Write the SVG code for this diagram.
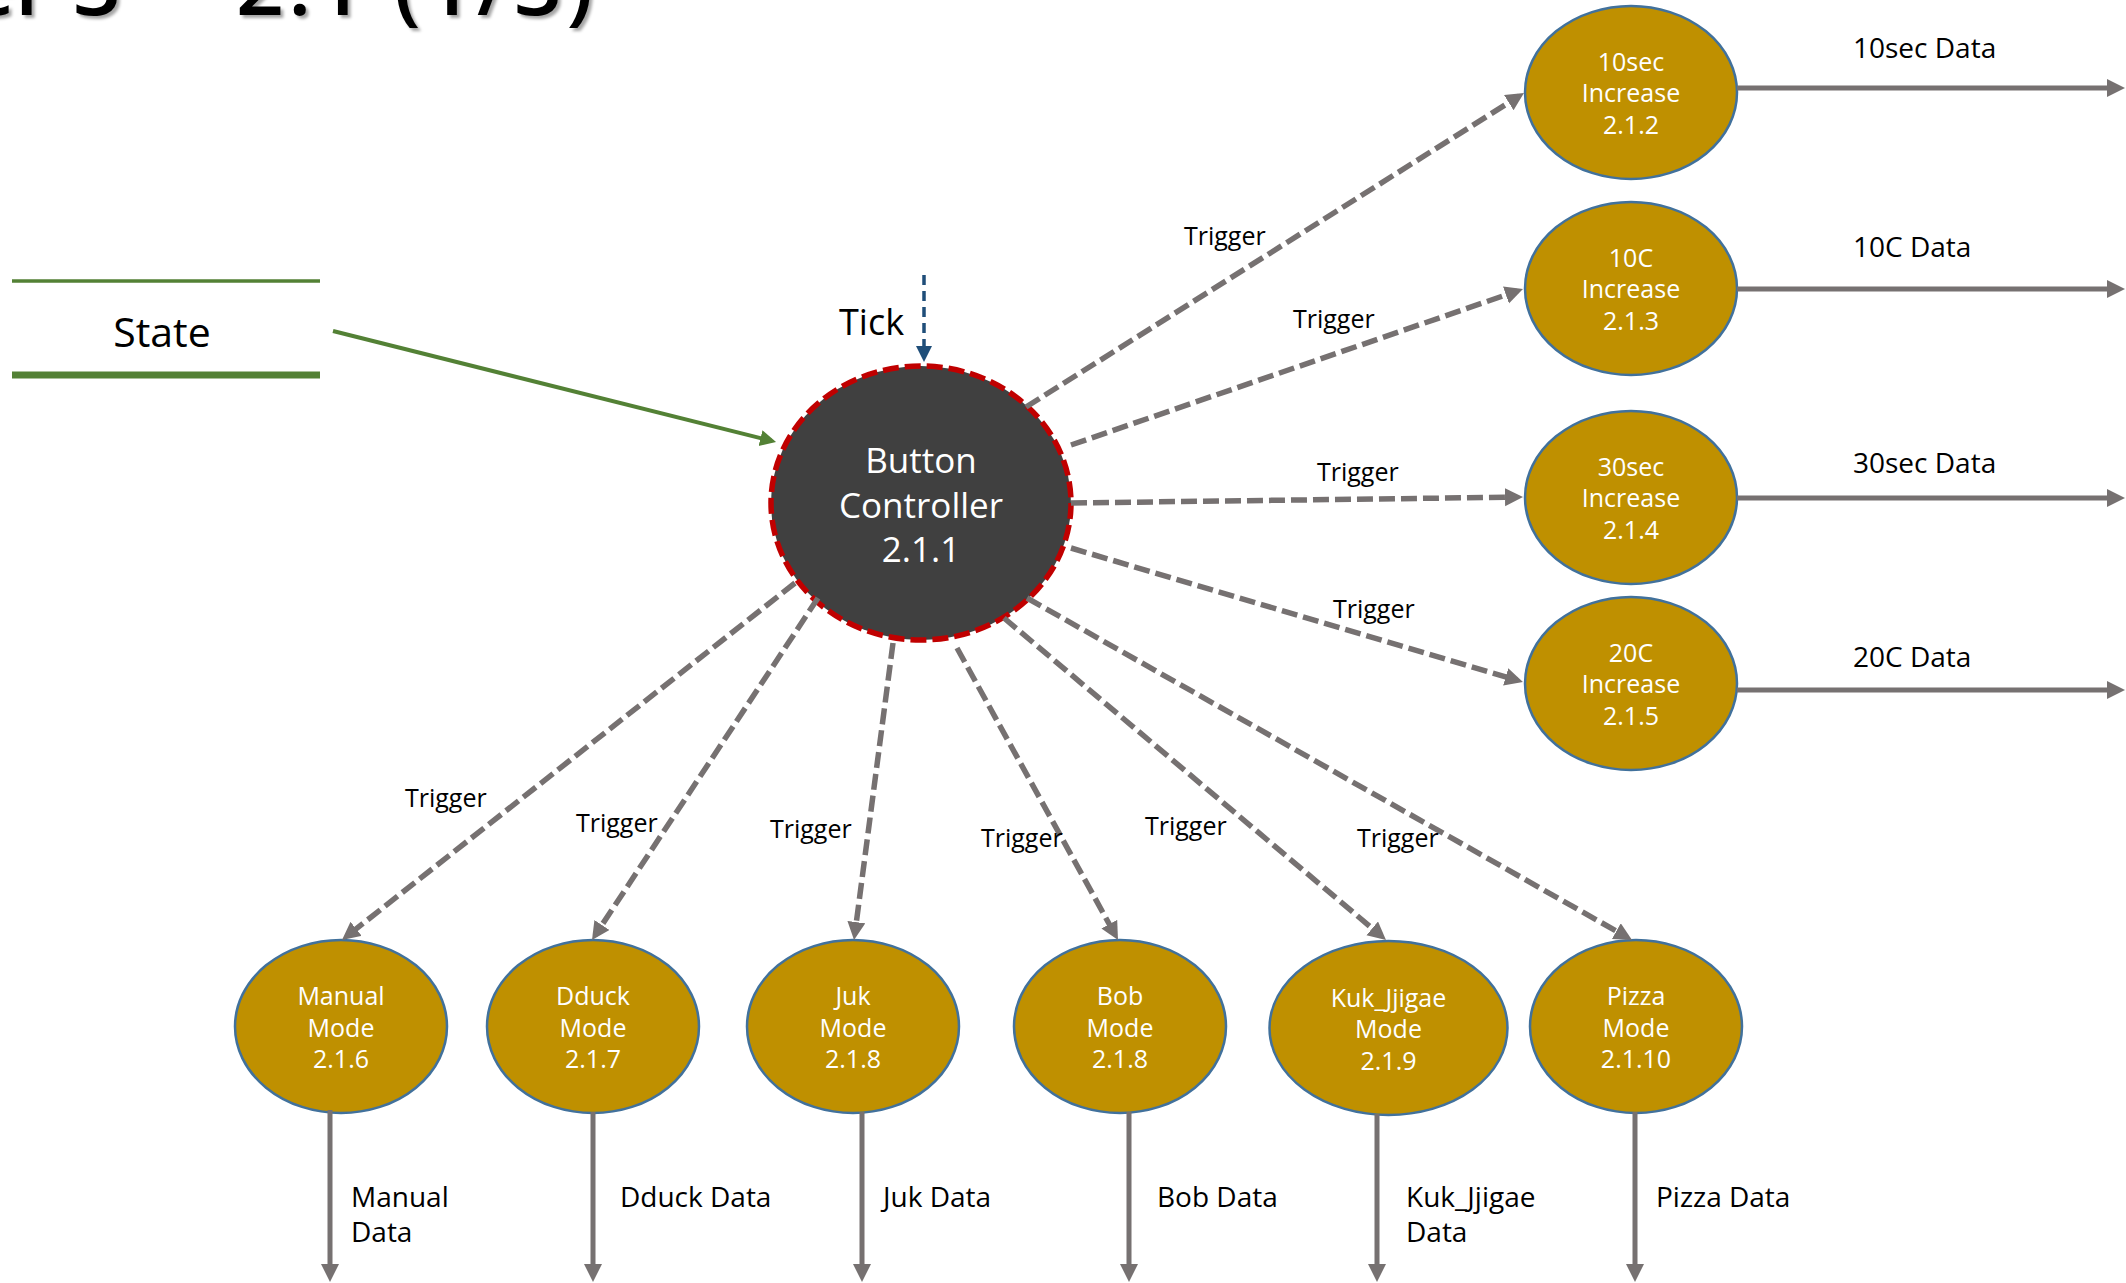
<svg xmlns="http://www.w3.org/2000/svg" width="2126" height="1283" viewBox="0 0 2126 1283">
<defs>
<marker id="ag" markerUnits="userSpaceOnUse" markerWidth="20" markerHeight="20" refX="12" refY="9" orient="auto"><path d="M0,0 L18,9 L0,18 z" fill="#767171"/></marker>
<marker id="ab" markerUnits="userSpaceOnUse" markerWidth="18" markerHeight="18" refX="11" refY="8" orient="auto"><path d="M0,0 L16,8 L0,16 z" fill="#1F4E79"/></marker>
<marker id="agr" markerUnits="userSpaceOnUse" markerWidth="18" markerHeight="18" refX="11" refY="8" orient="auto"><path d="M0,0 L16,8 L0,16 z" fill="#538135"/></marker>
<filter id="sh" x="-5%" y="-50%" width="110%" height="200%"><feDropShadow dx="3" dy="3" stdDeviation="1.5" flood-color="#000" flood-opacity="0.35"/></filter>
</defs>
<style>
text{font-family:"Open Sans","Noto Sans","Liberation Sans",sans-serif;}
.gold{fill:#BF9000;stroke:#41719C;stroke-width:2.5;}
.nt{fill:#fff;font-size:25px;text-anchor:middle;}
.lbl{fill:#000;font-size:28px;}
.trg{fill:#000;font-size:25px;}
.ttl{fill:#000;font-size:84px;font-weight:600;}
.dash{stroke:#767171;stroke-width:5.5;stroke-dasharray:16 6;fill:none;marker-end:url(#ag);}
.solid{stroke:#767171;stroke-width:5;fill:none;marker-end:url(#ag);}
</style>
<rect width="2126" height="1283" fill="#fff"/>
<g id="title" filter="url(#sh)">
<text class="ttl" x="121" y="15" text-anchor="end">Chapter 3</text>
<text class="ttl" x="236" y="15" textLength="357" lengthAdjust="spacing">2.1 (1/3)</text>
</g>
<g id="state">
<line x1="12" y1="281" x2="320" y2="281" stroke="#538135" stroke-width="3.5"/>
<line x1="12" y1="375" x2="320" y2="375" stroke="#538135" stroke-width="7"/>
<text x="162" y="347" font-size="41" text-anchor="middle" fill="#000">State</text>
</g>
<g id="n211">
<ellipse cx="921" cy="503" rx="150" ry="137" fill="#404040" stroke="#C00000" stroke-width="5.5" stroke-dasharray="16 6"/>
<text x="921" y="473" font-size="35" text-anchor="middle" fill="#fff">Button</text>
<text x="921" y="518" font-size="35" text-anchor="middle" fill="#fff">Controller</text>
<text x="921" y="562" font-size="35" text-anchor="middle" fill="#fff">2.1.1</text>
</g>
<g id="n212"><ellipse class="gold" cx="1631" cy="92.5" rx="106" ry="86.5"/><text class="nt" x="1631" y="70.5">10sec</text><text class="nt" x="1631" y="102">Increase</text><text class="nt" x="1631" y="133.5">2.1.2</text></g>
<g id="n213"><ellipse class="gold" cx="1631" cy="288.5" rx="106" ry="86.5"/><text class="nt" x="1631" y="266.5">10C</text><text class="nt" x="1631" y="298">Increase</text><text class="nt" x="1631" y="329.5">2.1.3</text></g>
<g id="n214"><ellipse class="gold" cx="1631" cy="497.5" rx="106" ry="86.5"/><text class="nt" x="1631" y="475.5">30sec</text><text class="nt" x="1631" y="507">Increase</text><text class="nt" x="1631" y="538.5">2.1.4</text></g>
<g id="n215"><ellipse class="gold" cx="1631" cy="683.5" rx="106" ry="86.5"/><text class="nt" x="1631" y="661.5">20C</text><text class="nt" x="1631" y="693">Increase</text><text class="nt" x="1631" y="724.5">2.1.5</text></g>
<g id="n216"><ellipse class="gold" cx="341" cy="1026.5" rx="106" ry="86.5"/><text class="nt" x="341" y="1005">Manual</text><text class="nt" x="341" y="1037">Mode</text><text class="nt" x="341" y="1068">2.1.6</text></g>
<g id="n217"><ellipse class="gold" cx="593" cy="1026.5" rx="106" ry="86.5"/><text class="nt" x="593" y="1005">Dduck</text><text class="nt" x="593" y="1037">Mode</text><text class="nt" x="593" y="1068">2.1.7</text></g>
<g id="n218a"><ellipse class="gold" cx="853" cy="1026.5" rx="106" ry="86.5"/><text class="nt" x="853" y="1005">Juk</text><text class="nt" x="853" y="1037">Mode</text><text class="nt" x="853" y="1068">2.1.8</text></g>
<g id="n218b"><ellipse class="gold" cx="1120" cy="1026.5" rx="106" ry="86.5"/><text class="nt" x="1120" y="1005">Bob</text><text class="nt" x="1120" y="1037">Mode</text><text class="nt" x="1120" y="1068">2.1.8</text></g>
<g id="n219"><ellipse class="gold" cx="1388.5" cy="1028" rx="119" ry="87"/><text class="nt" x="1388.5" y="1007">Kuk_Jjigae</text><text class="nt" x="1388.5" y="1038">Mode</text><text class="nt" x="1388.5" y="1070">2.1.9</text></g>
<g id="n2110"><ellipse class="gold" cx="1636" cy="1026.5" rx="106" ry="86.5"/><text class="nt" x="1636" y="1005">Pizza</text><text class="nt" x="1636" y="1037">Mode</text><text class="nt" x="1636" y="1068">2.1.10</text></g>
<g id="connectors">
<line x1="333" y1="331" x2="771.2" y2="440.8" stroke="#538135" stroke-width="4" marker-end="url(#agr)"/>
<line x1="924" y1="275" x2="924" y2="357" stroke="#1F4E79" stroke-width="3.5" stroke-dasharray="10 6" marker-end="url(#ab)"/>
<text x="839" y="335" font-size="36" fill="#000">Tick</text>
<line class="dash" x1="1026" y1="407" x2="1518.9" y2="96.2"/>
<line class="dash" x1="1071" y1="445" x2="1517.3" y2="291"/>
<line class="dash" x1="1071" y1="503" x2="1517" y2="497.1"/>
<line class="dash" x1="1071" y1="548" x2="1517.2" y2="680.3"/>
<line class="dash" x1="795" y1="583" x2="346.7" y2="936.3"/>
<line class="dash" x1="818" y1="598" x2="595.3" y2="935"/>
<line class="dash" x1="893" y1="643" x2="854.8" y2="934"/>
<line class="dash" x1="957" y1="648" x2="1115.1" y2="934.7"/>
<line class="dash" x1="1004" y1="618" x2="1381.4" y2="936.1"/>
<line class="dash" x1="1027" y1="598" x2="1626.8" y2="937"/>
<text class="trg" x="1184" y="245">Trigger</text>
<text class="trg" x="1293" y="328">Trigger</text>
<text class="trg" x="1317" y="481">Trigger</text>
<text class="trg" x="1333" y="618">Trigger</text>
<text class="trg" x="405" y="807">Trigger</text>
<text class="trg" x="576" y="832">Trigger</text>
<text class="trg" x="770" y="838">Trigger</text>
<text class="trg" x="981" y="847">Trigger</text>
<text class="trg" x="1145" y="835">Trigger</text>
<text class="trg" x="1357" y="847">Trigger</text>
<line class="solid" x1="1737" y1="88" x2="2119" y2="88"/>
<line class="solid" x1="1737" y1="289" x2="2119" y2="289"/>
<line class="solid" x1="1737" y1="498" x2="2119" y2="498"/>
<line class="solid" x1="1737" y1="690" x2="2119" y2="690"/>
<text class="lbl" x="1853" y="58">10sec Data</text>
<text class="lbl" x="1853" y="257">10C Data</text>
<text class="lbl" x="1853" y="473">30sec Data</text>
<text class="lbl" x="1853" y="667">20C Data</text>
<line class="solid" x1="330" y1="1110" x2="330" y2="1276"/>
<line class="solid" x1="593" y1="1112" x2="593" y2="1276"/>
<line class="solid" x1="862" y1="1112" x2="862" y2="1276"/>
<line class="solid" x1="1129" y1="1112" x2="1129" y2="1276"/>
<line class="solid" x1="1377" y1="1114" x2="1377" y2="1276"/>
<line class="solid" x1="1635" y1="1112" x2="1635" y2="1276"/>
<text class="lbl" x="351" y="1207">Manual</text>
<text class="lbl" x="351" y="1242">Data</text>
<text class="lbl" x="620" y="1207">Dduck Data</text>
<text class="lbl" x="883" y="1207">Juk Data</text>
<text class="lbl" x="1157" y="1207">Bob Data</text>
<text class="lbl" x="1406" y="1207">Kuk_Jjigae</text>
<text class="lbl" x="1406" y="1242">Data</text>
<text class="lbl" x="1656" y="1207">Pizza Data</text>
</g>
</svg>
